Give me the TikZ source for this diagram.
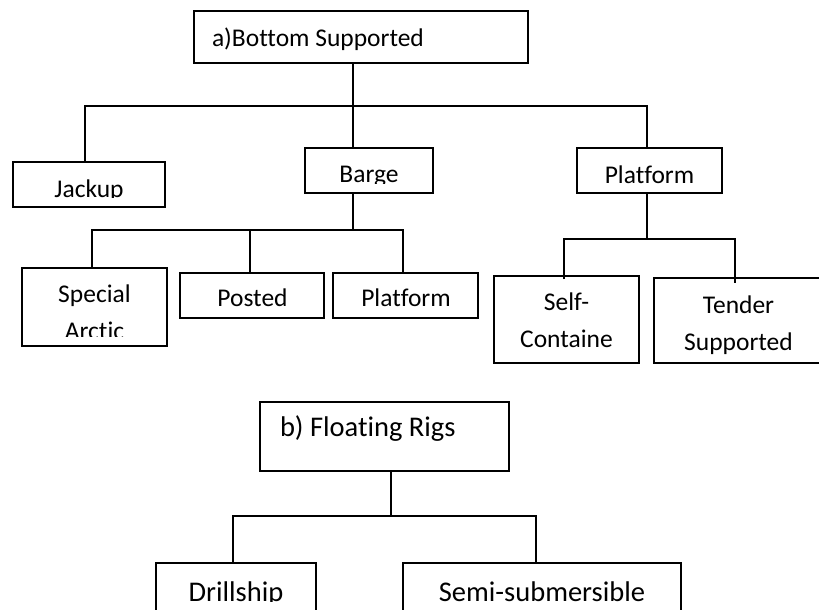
\documentclass[tikz,border=0pt]{standalone}
\usepackage{fontspec}
\setmainfont{Carlito}[Ligatures=CommonOff]
\begin{document}
\begin{tikzpicture}[x=1pt,y=-1pt,
  box/.style={draw, line width=1.5pt, inner sep=0pt, outer sep=0pt, anchor=north west},
  lab/.style={inner sep=0pt, outer sep=0pt, anchor=base, align=center, font=\fontsize{25.5}{37}\selectfont},
  blab/.style={lab, font=\fontsize{28.5}{34}\selectfont},
  conn/.style={line width=1.3pt}]
\useasboundingbox (0,0) rectangle (819,610);
\begin{scope}
\clip (0,0) rectangle (819,610);
% ---------- boxes, part a ----------
\node[box, minimum width=334pt, minimum height=52pt] (A)  at (194,11) {};
\node[box, minimum width=152pt, minimum height=45pt] (J)  at (13,162) {};
\node[box, minimum width=128pt, minimum height=45pt] (Bg) at (305,148) {};
\node[box, minimum width=145pt, minimum height=45pt] (P1) at (577,148) {};
\node[box, minimum width=145pt, minimum height=78pt] (S)  at (22,268) {};
\node[box, minimum width=144pt, minimum height=45pt] (Po) at (180,273) {};
\node[box, minimum width=145pt, minimum height=45pt] (P2) at (333,273) {};
\node[box, minimum width=145pt, minimum height=87pt] (Sc) at (494,276) {};
\node[box, minimum width=169pt, minimum height=85pt] (T)  at (654,278) {};
% ---------- boxes, part b ----------
\node[box, minimum width=249pt, minimum height=69pt] (B)  at (260,402) {};
\node[box, minimum width=160pt, minimum height=70pt] (D)  at (156,563) {};
\node[box, minimum width=278pt, minimum height=70pt] (Se) at (403,563) {};
% ---------- labels ----------
\node[lab, anchor=base west] (tA) at (212,46.7) {a)Bottom Supported};
\begin{scope}
  \clip (13,162) rectangle (165,197.5);
  \node[lab] (tJ) at (89,197) {Jackup};
\end{scope}
\begin{scope}
  \clip (305,148) rectangle (433,183);
  \node[lab] (tBg) at (369,182.3) {Barge};
\end{scope}
\node[lab] (tP1) at (649.5,183.3) {Platform};
\begin{scope}
  \clip (22,268) rectangle (167,336.7);
  \node[lab] (tS) at (94.5,339.5) {Special\\Arctic};
\end{scope}
\node[lab] (tPo) at (252.5,306.7) {Posted};
\node[lab] (tP2) at (406,306.2) {Platform};
\node[lab] (tSc) at (566.5,347.3) {Self-\\Containe};
\node[lab] (tT)  at (738.5,350) {Tender\\Supported};
\node[blab, anchor=base west] (tB) at (280,436.7) {b) Floating Rigs};
\begin{scope}
  \clip (156,563) rectangle (316,601.5);
  \node[blab] (tD) at (236,601) {Drillship};
\end{scope}
\node[blab] (tSe) at (542,601) {Semi-submersible};
% ---------- connectors, part a ----------
\coordinate (ja) at (85,106);
\coordinate (ma) at (353,106);
\coordinate (pa) at (647,106);
\draw[conn] (ma |- A.south) -- (ma |- Bg.north);
\draw[conn] (ja |- J.north) -- (ja) -- (pa) -- (pa |- P1.north);
\coordinate (sb) at (92,230);
\coordinate (mb) at (353,230);
\coordinate (pb) at (250,230);
\coordinate (qb) at (403,230);
\draw[conn] (mb |- Bg.south) -- (mb);
\draw[conn] (sb |- S.north) -- (sb) -- (qb) -- (qb |- P2.north);
\draw[conn] (pb) -- (pb |- Po.north);
\coordinate (mc) at (647,239);
\coordinate (lc) at (564,239);
\coordinate (rc) at (735,239);
\coordinate (se) at (564,279);
\coordinate (te) at (735,283);
\draw[conn] (mc |- P1.south) -- (mc);
\draw[conn] (se) -- (lc) -- (rc) -- (te);
% ---------- connectors, part b ----------
\coordinate (md) at (391,516);
\coordinate (ld) at (233,516);
\coordinate (rd) at (536,516);
\draw[conn, line width=1.1pt] (md |- B.south) -- (md);
\draw[conn] (ld |- D.north) -- (ld) -- (rd) -- (rd |- Se.north);
\end{scope}
\end{tikzpicture}
\end{document}
